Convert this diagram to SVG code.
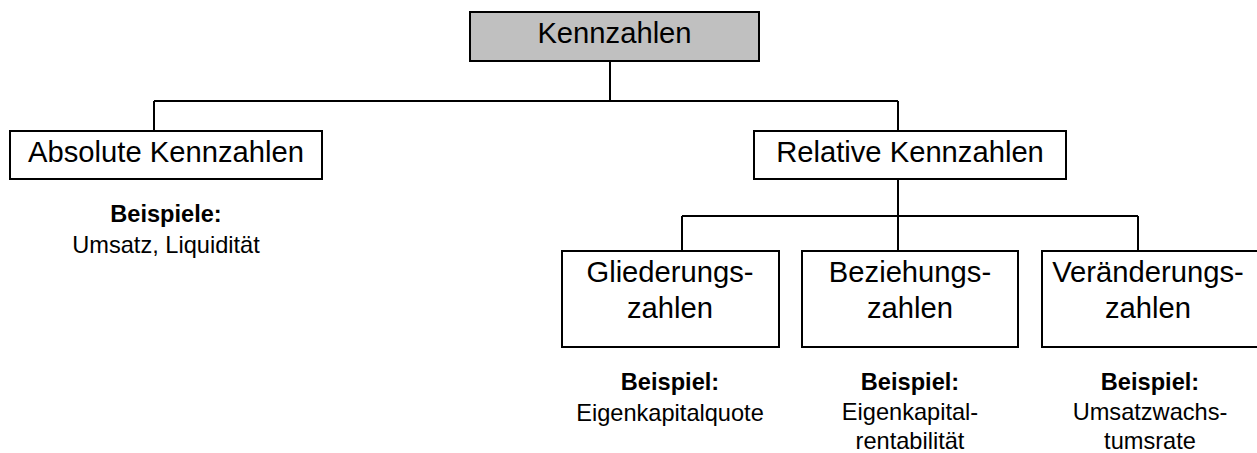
<svg xmlns="http://www.w3.org/2000/svg" width="1257" height="453" viewBox="0 0 1257 453">
<style>
.box{fill:#ffffff;stroke:#000000;stroke-width:2}
.root{fill:#c0c0c0;stroke:#000000;stroke-width:2}
.big{font-family:"Liberation Sans",Arial,sans-serif;font-size:29.2px;fill:#000;text-anchor:middle}
.lbl{font-family:"Liberation Sans",Arial,sans-serif;font-size:23.6px;fill:#000;text-anchor:middle}
.bold{font-weight:bold}
.conn{fill:none;stroke:#000000;stroke-width:2}
</style>
<rect width="1257" height="453" fill="#ffffff"/>
<g id="connectors">
<path class="conn" d="M610,61 V101 M154,101 H898 M154,101 V131 M898,101 V131"/>
<path class="conn" d="M898,179 V216 M682,216 H1138 M682,216 V251 M898,216 V251 M1138,216 V251"/>
</g>
<g id="kennzahlen">
<rect class="root" x="470" y="12" width="289" height="49"/>
<text class="big" x="614.5" y="43">Kennzahlen</text>
</g>
<g id="absolute">
<rect class="box" x="10" y="131" width="312" height="48"/>
<text class="big" x="166" y="162">Absolute Kennzahlen</text>
<text class="lbl bold" x="166" y="222">Beispiele:</text>
<text class="lbl" x="166" y="253">Umsatz, Liquidität</text>
</g>
<g id="relative">
<rect class="box" x="754" y="131" width="312" height="48"/>
<text class="big" x="910" y="162">Relative Kennzahlen</text>
</g>
<g id="gliederung">
<rect class="box" x="562" y="251" width="217" height="96"/>
<text class="big" x="670" y="282">Gliederungs-</text>
<text class="big" x="670" y="318">zahlen</text>
<text class="lbl bold" x="670" y="390">Beispiel:</text>
<text class="lbl" x="670" y="421">Eigenkapitalquote</text>
</g>
<g id="beziehung">
<rect class="box" x="802" y="251" width="216" height="96"/>
<text class="big" x="910" y="282">Beziehungs-</text>
<text class="big" x="910" y="318">zahlen</text>
<text class="lbl bold" x="910" y="390">Beispiel:</text>
<text class="lbl" x="910" y="420">Eigenkapital-</text>
<text class="lbl" x="910" y="449">rentabilität</text>
</g>
<g id="veraenderung">
<rect class="box" x="1042" y="251" width="220" height="96"/>
<text class="big" x="1148" y="282">Veränderungs-</text>
<text class="big" x="1148" y="318">zahlen</text>
<text class="lbl bold" x="1150" y="390">Beispiel:</text>
<text class="lbl" x="1150" y="420">Umsatzwachs-</text>
<text class="lbl" x="1150" y="449">tumsrate</text>
</g>
</svg>
